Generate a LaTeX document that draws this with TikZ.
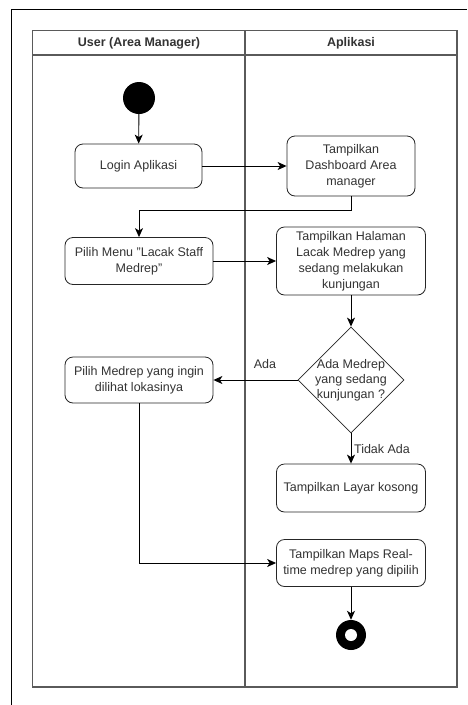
\documentclass[tikz,border=0pt]{standalone}
\usepackage{fontspec}
\setmainfont{Liberation Sans}
\usetikzlibrary{shapes.geometric,arrows.meta}
\definecolor{lanegray}{HTML}{5A5A5A}
\definecolor{txt}{HTML}{333333}
\newcommand{\sq}{{\char34}}
\begin{document}
\begin{tikzpicture}[x=1pt,y=-1pt,
  lane/.style={draw=lanegray,line width=1.4pt},
  head/.style={font=\fontsize{12.5}{15}\selectfont\bfseries,text=txt},
  act/.style={draw=black!85,line width=0.8pt,rounded corners=8pt,align=center,
    font=\fontsize{12.5}{16}\selectfont,text=txt,inner sep=0pt},
  flow/.style={draw=black,line width=0.9pt,-{Stealth[length=9pt,width=8pt,inset=2.5pt]}},
  lbl/.style={font=\fontsize{12.5}{15}\selectfont,text=txt}]
\useasboundingbox (0,0) rectangle (467,705);
\fill[white] (0,0) rectangle (467,705);
% outer page frame
\draw[black,line width=0.8pt] (11.5,705) -- (11.5,9) -- (467,9);
% swimlanes
\draw[lane] (32.5,30.5) rectangle (457,687);
\draw[lane] (32.5,55) -- (457,55);
\draw[lane] (245,30.5) -- (245,687);
\node[head] (h1) at (139,43) {User (Area Manager)};
\node[head] (h2) at (351,43) {Aplikasi};
% activities
\node[circle,fill=black,minimum size=32pt,inner sep=0pt] (start) at (139,98) {};
\node[act,minimum width=127pt,minimum height=44pt] (login) at (138.5,166) {Login Aplikasi};
\node[act,minimum width=128pt,minimum height=60pt] (dash) at (351,166) {Tampilkan\\Dashboard Area\\manager};
\node[act,minimum width=148pt,minimum height=47pt] (menu) at (139,261) {Pilih Menu \sq Lacak Staff\\Medrep\sq};
\node[act,minimum width=149pt,minimum height=68pt] (hal) at (351,261) {Tampilkan Halaman\\Lacak Medrep yang\\sedang melakukan\\kunjungan};
\node[diamond,draw=black!85,line width=0.8pt,minimum width=106pt,minimum height=106pt,inner sep=0pt] (dec) at (351,380) {};
\node[align=center,font=\fontsize{12.5}{15}\selectfont,text=txt] (dectext) at (dec.center) {Ada Medrep\\yang sedang\\kunjungan ?};
\node[act,minimum width=148pt,minimum height=46pt] (pilmed) at (139,380) {Pilih Medrep yang ingin\\dilihat lokasinya};
\node[act,minimum width=149pt,minimum height=48pt] (layar) at (351,488) {Tampilkan Layar kosong};
\node[act,minimum width=149pt,minimum height=47pt] (maps) at (351,563) {Tampilkan Maps Real-\\time medrep yang dipilih};
\node[circle,fill=black,minimum size=30pt,inner sep=0pt] (end) at (351,635) {};
\node[circle,fill=white,minimum size=12pt,inner sep=0pt] (endin) at (end.center) {};
% connectors
\draw[flow] (start) -- (login);
\draw[flow] (login) -- (dash);
\draw[flow] (dash.south) -- ++(0,14) -| (menu.north);
\draw[flow] (menu.east) -- (menu.east -| hal.west);
\draw[flow] (hal) -- (dec);
\draw[flow] (dec.west) -- (pilmed.east);
\node[lbl] (ada) at (265,364) {Ada};
\draw[flow] (dec.south) -- (layar.north);
\node[lbl] (tidak) at (382,449) {Tidak Ada};
\draw[flow] (pilmed.south) |- (maps.west);
\draw[flow] (maps) -- (end);
\end{tikzpicture}
\end{document}
